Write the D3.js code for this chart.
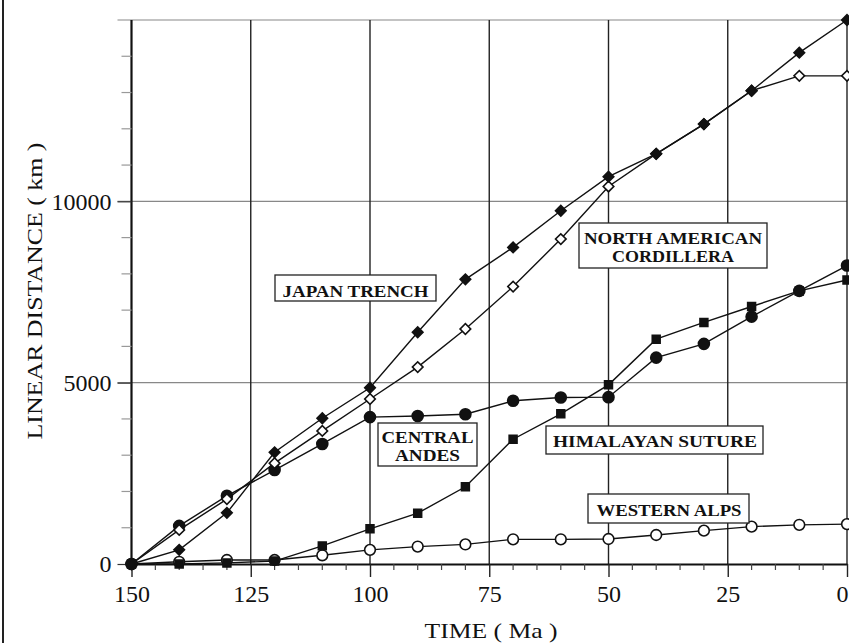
<!DOCTYPE html>
<html>
<head>
<meta charset="utf-8">
<script src="https://cdn.jsdelivr.net/npm/d3@7"></script>
<style>
  body { margin: 0; background: #fff; }
  svg { display: block; }
  text { font-family: "Liberation Serif", "Times New Roman", serif; fill: #111; }
</style>
</head>
<body>
<svg></svg>
<script>
var width = 849;
var height = 643;

// ages (Ma) and linear distance (km) per belt
var ages = [150, 140, 130, 120, 110, 100, 90, 80, 70, 60, 50, 40, 30, 20, 10, 0];
var japanTrench  = [0, 390, 1410, 3080, 4020, 4860, 6390, 7850, 8730, 9740, 10680, 11310, 12130, 13050, 14100, 15000];
var naCordillera = [0, 940, 1790, 2780, 3670, 4550, 5430, 6480, 7650, 8960, 10410, 11310, 12130, 13050, 13460, 13460];
var centralAndes = [0, 1050, 1880, 2590, 3310, 4050, 4080, 4130, 4500, 4590, 4600, 5690, 6070, 6820, 7530, 8230];
var himalayan    = [0, 0, 30, 80, 500, 970, 1400, 2130, 3440, 4140, 4940, 6200, 6660, 7100, 7530, 7830];
var westernAlps  = [0, 60, 110, 110, 240, 390, 480, 540, 680, 680, 690, 800, 920, 1030, 1080, 1100];

var xTicks = [150, 125, 100, 75, 50, 25, 0];
var yTicks = [0, 5000, 10000];

var svg = d3.select("svg")
            .attr("width", width)
            .attr("height", height);

var scaleX = d3.scaleLinear().domain([150, 0]).range([131.5, 847]);
var scaleY = d3.scaleLinear().domain([0, 15000]).range([564, 20]);

// scan frame on the left
svg.append("line")
   .attr("x1", 3).attr("x2", 3).attr("y1", 0).attr("y2", height)
   .attr("stroke", "#222").attr("stroke-width", 2);

// horizontal grid (light)
svg.append("g")
   .selectAll("line")
   .data([5000, 10000, 15000])
   .enter().append("line")
   .attr("x1", scaleX(150) - 14).attr("x2", scaleX(0))
   .attr("y1", function(d) { return scaleY(d) })
   .attr("y2", function(d) { return scaleY(d) })
   .attr("stroke", "#888").attr("stroke-width", 1.2);

// vertical grid (dark)
svg.append("g")
   .selectAll("line")
   .data(xTicks.slice(1))
   .enter().append("line")
   .attr("x1", function(d) { return scaleX(d) })
   .attr("x2", function(d) { return scaleX(d) })
   .attr("y1", scaleY(15000)).attr("y2", scaleY(0))
   .attr("stroke", "#222").attr("stroke-width", 1.4);

// x axis
var xAxis = d3.axisBottom(scaleX)
              .tickValues(xTicks)
              .tickSizeInner(13)
              .tickSizeOuter(0)
              .tickPadding(8);

var gx = svg.append("g")
            .attr("transform", "translate(0," + scaleY(0) + ")")
            .call(xAxis);
gx.select(".domain").attr("stroke", "#111").attr("stroke-width", 2.2);
gx.selectAll(".tick line").attr("stroke", "#222").attr("stroke-width", 1.4);
gx.selectAll(".tick text").attr("font-size", 24).attr("font-family", "Liberation Serif").attr("fill", "#111");
// keep the last label inside the page
gx.selectAll(".tick text").filter(function(d) { return d == 0 }).attr("text-anchor", "end").attr("dx", 1);

var xMinor = d3.range(145, 0, -5).filter(function(d) { return d % 25 != 0 });
svg.append("g")
   .selectAll("line")
   .data(xMinor)
   .enter().append("line")
   .attr("x1", function(d) { return scaleX(d) })
   .attr("x2", function(d) { return scaleX(d) })
   .attr("y1", scaleY(0)).attr("y2", scaleY(0) + 6)
   .attr("stroke", "#444").attr("stroke-width", 1.2);

// y axis
var yAxis = d3.axisLeft(scaleY)
              .tickValues(yTicks)
              .tickSizeInner(14)
              .tickSizeOuter(0)
              .tickPadding(6)
              .tickFormat(d3.format("d"));

var gy = svg.append("g")
            .attr("transform", "translate(" + scaleX(150) + ",0)")
            .call(yAxis);
gy.select(".domain").attr("stroke", "#111").attr("stroke-width", 2.2)
  .attr("d", "M0," + scaleY(0) + "V" + scaleY(15000));
gy.selectAll(".tick line").attr("stroke", "#333").attr("stroke-width", 1.2);
gy.selectAll(".tick text").attr("font-size", 24).attr("font-family", "Liberation Serif").attr("fill", "#111");

var yMinor = d3.range(1000, 15000, 1000).filter(function(d) { return d % 5000 != 0 });
svg.append("g")
   .selectAll("line")
   .data(yMinor)
   .enter().append("line")
   .attr("x1", scaleX(150) - 10).attr("x2", scaleX(150))
   .attr("y1", function(d) { return scaleY(d) })
   .attr("y2", function(d) { return scaleY(d) })
   .attr("stroke", "#999").attr("stroke-width", 1.2);

// axis titles
svg.append("text")
   .attr("x", 491).attr("y", 638)
   .attr("text-anchor", "middle")
   .attr("font-size", 21)
   .attr("textLength", 133)
   .attr("lengthAdjust", "spacingAndGlyphs")
   .text("TIME ( Ma )");

svg.append("text")
   .attr("transform", "translate(42,291) rotate(-90)")
   .attr("text-anchor", "middle")
   .attr("font-size", 22)
   .attr("textLength", 297)
   .attr("lengthAdjust", "spacingAndGlyphs")
   .text("LINEAR DISTANCE ( km )");

// series
var series = [
  { name: "alps",     values: westernAlps,  shape: d3.symbolCircle, size: 90, fill: "#fff", rot: 0 },
  { name: "himalaya", values: himalayan,    shape: d3.symbolSquare, size: 62, fill: "#111", rot: 0 },
  { name: "andes",    values: centralAndes, shape: d3.symbolCircle, size: 95, fill: "#111", rot: 0 },
  { name: "nacord",   values: naCordillera, shape: d3.symbolSquare, size: 56, fill: "#fff", rot: 45 },
  { name: "japan",    values: japanTrench,  shape: d3.symbolSquare, size: 56, fill: "#111", rot: 45 }
];

var line = d3.line()
             .x(function(d, i) { return scaleX(ages[i]) })
             .y(function(d) { return scaleY(d) });

svg.append("g")
   .selectAll("path")
   .data(series)
   .enter().append("path")
   .attr("d", function(s) { return line(s.values) })
   .attr("fill", "none")
   .attr("stroke", "#111")
   .attr("stroke-width", 1.4);

series.forEach(function(s) {
  var sym = d3.symbol().type(s.shape).size(s.size);
  svg.append("g")
     .selectAll("path")
     .data(s.values)
     .enter().append("path")
     .attr("d", sym)
     .attr("transform", function(d, i) {
        return "translate(" + scaleX(ages[i]) + "," + scaleY(d) + ") rotate(" + s.rot + ")";
     })
     .attr("fill", s.fill)
     .attr("stroke", "#111")
     .attr("stroke-width", 1.6);
});

// labels in boxes (text widths as measured on the figure)
var labels = [
  { lines: ["JAPAN TRENCH"], widths: [146], box: [275, 275, 436, 301], cx: 355.5, base: 297 },
  { lines: ["NORTH AMERICAN", "CORDILLERA"], widths: [178, 122], box: [579, 223, 767, 268], cx: 673, base: 244 },
  { lines: ["CENTRAL", "ANDES"], widths: [92, 65], box: [378, 423, 477, 466], cx: 427.5, base: 443 },
  { lines: ["HIMALAYAN SUTURE"], widths: [204], box: [546, 426, 763, 454], cx: 655, base: 447 },
  { lines: ["WESTERN ALPS"], widths: [145], box: [588, 494, 749, 523], cx: 669, base: 516 }
];

labels.forEach(function(l) {
  var g = svg.append("g");
  g.append("rect")
   .attr("x", l.box[0]).attr("y", l.box[1])
   .attr("width", l.box[2] - l.box[0]).attr("height", l.box[3] - l.box[1])
   .attr("fill", "#fff").attr("stroke", "#222").attr("stroke-width", 1.3);
  l.lines.forEach(function(s, i) {
    g.append("text")
     .attr("x", l.cx).attr("y", l.base + i * 18)
     .attr("text-anchor", "middle")
     .attr("font-size", 16)
     .attr("font-weight", "bold")
     .attr("textLength", l.widths[i])
     .attr("lengthAdjust", "spacingAndGlyphs")
     .text(s);
  });
});
</script>
</body>
</html>
